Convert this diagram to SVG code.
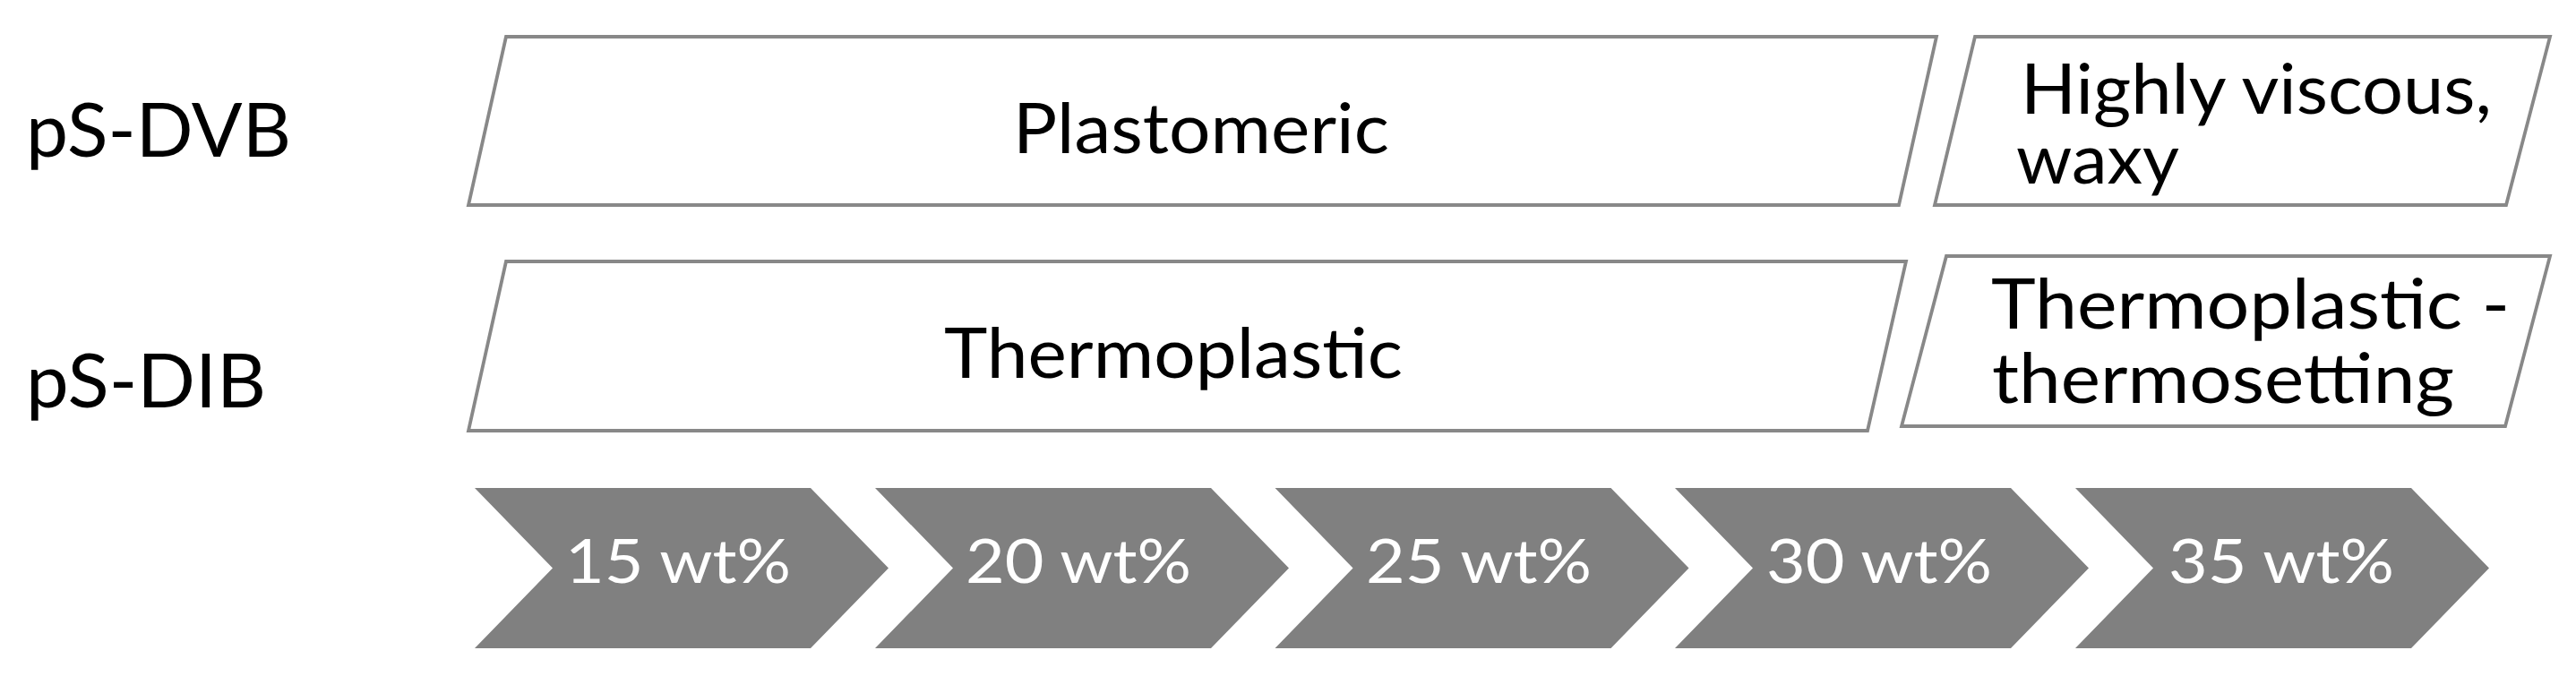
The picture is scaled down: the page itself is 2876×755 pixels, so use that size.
<svg xmlns="http://www.w3.org/2000/svg" width="2876" height="755" viewBox="0 0 2876 755">
<style>
.box{fill:#ffffff;stroke:#888888;stroke-width:3.8;stroke-linejoin:miter}
.t{font-family:Lato,"Open Sans","Liberation Sans",sans-serif;fill:#000000;font-size:78px}
.lbl{font-family:Lato,"Open Sans","Liberation Sans",sans-serif;fill:#000000;font-size:84px}
.chev{fill:#808080}
.ct{font-family:Lato,"Open Sans","Liberation Sans",sans-serif;fill:#ffffff;font-size:68px;text-anchor:middle}
</style>
<rect width="2876" height="755" fill="#ffffff"/>
<g id="label-dvb"><text class="lbl" x="29" y="175" textLength="296" lengthAdjust="spacingAndGlyphs">pS-DVB</text></g>
<g id="label-dib"><text class="lbl" x="29" y="455" textLength="268" lengthAdjust="spacingAndGlyphs">pS-DIB</text></g>
<g id="plastomeric">
<polygon class="box" points="565,41 2162,41 2120,229 523,229"/>
<text class="t" x="1131" y="171" textLength="420" lengthAdjust="spacingAndGlyphs">Plastomeric</text>
</g>
<g id="highly-viscous">
<polygon class="box" points="2205,41 2847,41 2798,229 2160,229"/>
<text class="t"><tspan x="2256" y="127" textLength="526" lengthAdjust="spacingAndGlyphs">Highly viscous,</tspan><tspan x="2251" y="205" textLength="182" lengthAdjust="spacingAndGlyphs">waxy</tspan></text>
</g>
<g id="thermoplastic">
<polygon class="box" points="565,292 2128,292 2085,481 523,481"/>
<text class="t" x="1054" y="422" textLength="512" lengthAdjust="spacingAndGlyphs">Thermoplastic</text>
</g>
<g id="thermo-thermosetting">
<polygon class="box" points="2173,286 2847,286 2797,476 2123,476"/>
<text class="t"><tspan x="2223" y="367" textLength="579" lengthAdjust="spacingAndGlyphs">Thermoplastic -</tspan><tspan x="2224" y="450" textLength="516" lengthAdjust="spacingAndGlyphs">thermosetting</tspan></text>
</g>
<g id="chevron-15">
<polygon class="chev" points="530,545 905,545 992,634.5 905,724 530,724 617,634.5"/>
<text class="ct" x="757" y="651" textLength="252" lengthAdjust="spacingAndGlyphs">15 wt%</text>
</g>
<g id="chevron-20">
<polygon class="chev" points="977,545 1352,545 1439,634.5 1352,724 977,724 1064,634.5"/>
<text class="ct" x="1204" y="651" textLength="252" lengthAdjust="spacingAndGlyphs">20 wt%</text>
</g>
<g id="chevron-25">
<polygon class="chev" points="1423.5,545 1798.5,545 1885.5,634.5 1798.5,724 1423.5,724 1510.5,634.5"/>
<text class="ct" x="1651" y="651" textLength="252" lengthAdjust="spacingAndGlyphs">25 wt%</text>
</g>
<g id="chevron-30">
<polygon class="chev" points="1870,545 2245,545 2332,634.5 2245,724 1870,724 1957,634.5"/>
<text class="ct" x="2098" y="651" textLength="252" lengthAdjust="spacingAndGlyphs">30 wt%</text>
</g>
<g id="chevron-35">
<polygon class="chev" points="2317,545 2692,545 2779,634.5 2692,724 2317,724 2404,634.5"/>
<text class="ct" x="2547" y="651" textLength="252" lengthAdjust="spacingAndGlyphs">35 wt%</text>
</g>
<g id="connectors"></g>
</svg>
